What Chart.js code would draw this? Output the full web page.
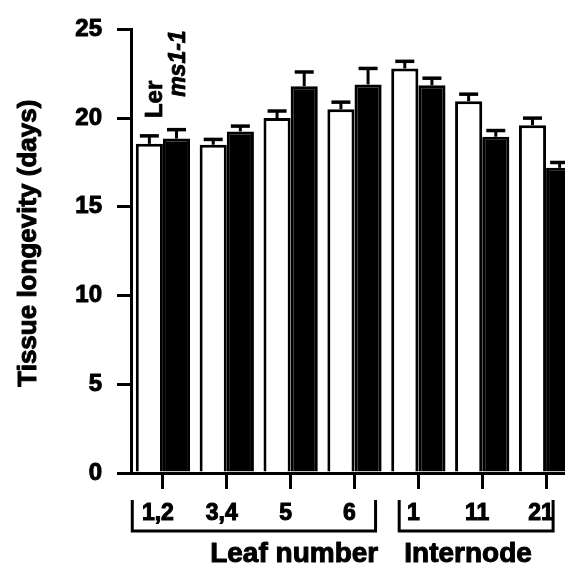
<!DOCTYPE html>
<html>
<head>
<meta charset="utf-8">
<script src="https://cdn.jsdelivr.net/npm/chart.js@4.4.1/dist/chart.umd.min.js"></script>
<style>
  html, body { margin: 0; padding: 0; background: #fff; overflow: hidden; width: 565px; height: 580px; }
  #wrap { position: absolute; left: 0; top: 0; width: 600px; height: 580px; }
  canvas { display: block; }
</style>
</head>
<body>
<div id="wrap"><canvas id="c" width="600" height="580"></canvas></div>
<script>
// ---- Data ----
const categories = ['1,2', '3,4', '5', '6', '1', '11', '21'];
const groupNames = ['Leaf number', 'Internode'];
const groupSizes = [4, 3];
const seriesNames = ['Ler', 'ms1-1'];
const lerValues  = [18.55, 18.5, 20.0, 20.5, 22.8, 20.95, 19.6];
const lerErrors  = [0.45, 0.3, 0.4, 0.4, 0.4, 0.4, 0.4];
const msValues   = [18.85, 19.25, 21.8, 21.9, 21.85, 18.95, 17.2];
const msErrors   = [0.5, 0.3, 0.8, 0.9, 0.4, 0.35, 0.3];
const yTicks     = [0, 5, 10, 15, 20, 25];
const yTitle     = 'Tissue longevity (days)';

const FONT = "'Liberation Sans', Arial, Helvetica, sans-serif";
const errorsByDataset = [lerErrors, msErrors];

function heavyText(ctx, text, x, y, w) {
  ctx.lineWidth = w;
  ctx.lineJoin = 'round';
  ctx.strokeText(text, x, y);
  ctx.fillText(text, x, y);
}

const errorBarPlugin = {
  id: 'errorBars',
  afterDatasetsDraw(chart) {
    const ctx = chart.ctx;
    const y = chart.scales.y;
    ctx.save();
    ctx.strokeStyle = '#000';
    chart.data.datasets.forEach((ds, di) => {
      const meta = chart.getDatasetMeta(di);
      meta.data.forEach((bar, i) => {
        const v = ds.data[i];
        const e = errorsByDataset[di][i];
        const yTop = y.getPixelForValue(v);
        const yErr = y.getPixelForValue(v + e);
        ctx.lineWidth = 3;
        ctx.beginPath();
        ctx.moveTo(bar.x, yTop);
        ctx.lineTo(bar.x, yErr);
        ctx.stroke();
        ctx.lineWidth = 3.5;
        ctx.beginPath();
        ctx.moveTo(bar.x - 9.5, yErr);
        ctx.lineTo(bar.x + 9.5, yErr);
        ctx.stroke();
      });
    });
    ctx.restore();
  }
};

const annotatePlugin = {
  id: 'annotate',
  afterDraw(chart) {
    const ctx = chart.ctx;
    const x = chart.scales.x;
    const y = chart.scales.y;
    const step = x.getPixelForValue(1) - x.getPixelForValue(0);
    ctx.save();
    ctx.fillStyle = '#000';
    ctx.strokeStyle = '#000';

    // Y-axis title
    ctx.save();
    ctx.translate(36, (chart.chartArea.top + chart.chartArea.bottom) / 2 - 8);
    ctx.rotate(-Math.PI / 2);
    ctx.font = 'bold 26px ' + FONT;
    ctx.textAlign = 'center';
    ctx.textBaseline = 'alphabetic';
    heavyText(ctx, yTitle, 0, 0, 1);
    ctx.restore();

    // Series labels written vertically above the first group
    const b0 = chart.getDatasetMeta(0).data[0];
    const b1 = chart.getDatasetMeta(1).data[0];
    ctx.textAlign = 'left';
    ctx.textBaseline = 'middle';
    ctx.save();
    ctx.translate(b0.x + 6, y.getPixelForValue(20.0));
    ctx.rotate(-Math.PI / 2);
    ctx.font = 'bold 24px ' + FONT;
    heavyText(ctx, seriesNames[0], 0, 0, 0.8);
    ctx.restore();
    ctx.save();
    ctx.translate(b1.x + 2, y.getPixelForValue(21.2));
    ctx.rotate(-Math.PI / 2);
    ctx.font = 'italic bold 23px ' + FONT;
    heavyText(ctx, seriesNames[1], 0, 0, 0.8);
    ctx.restore();

    // Group brackets under the category labels
    const top = x.top + 27, bot = x.top + 58;
    const g0L = x.getPixelForValue(0) - step * 0.48;
    const g0R = x.getPixelForValue(groupSizes[0] - 1) + step * 0.33;
    const g1L = x.getPixelForValue(groupSizes[0]) - step * 0.30;
    const g1R = x.getPixelForValue(groupSizes[0] + groupSizes[1] - 1) + step * 0.11;
    ctx.lineWidth = 3;
    [[g0L, g0R], [g1L, g1R]].forEach(([l, r]) => {
      ctx.beginPath();
      ctx.moveTo(l, top);
      ctx.lineTo(l, bot);
      ctx.lineTo(r, bot);
      ctx.lineTo(r, top);
      ctx.stroke();
    });

    // Group titles
    ctx.font = 'bold 28px ' + FONT;
    ctx.textBaseline = 'alphabetic';
    ctx.textAlign = 'left';
    heavyText(ctx, groupNames[0], x.getPixelForValue(0) + step * 0.74, x.top + 89, 1);
    heavyText(ctx, groupNames[1], x.getPixelForValue(groupSizes[0]) - step * 0.22, x.top + 89, 1);
    ctx.restore();
  }
};

new Chart(document.getElementById('c'), {
  type: 'bar',
  data: {
    labels: categories,
    datasets: [
      { label: seriesNames[0], data: lerValues, backgroundColor: '#ffffff', borderColor: '#000000', borderWidth: 3 },
      { label: seriesNames[1], data: msValues, backgroundColor: '#000000', borderColor: '#000000', borderWidth: 3 }
    ]
  },
  options: {
    responsive: false,
    animation: false,
    devicePixelRatio: 1,
    layout: { padding: { top: 24, right: 22, bottom: 0, left: 0 } },
    datasets: { bar: { categoryPercentage: 0.85, barPercentage: 1.0 } },
    plugins: { legend: { display: false }, tooltip: { enabled: false }, title: { display: false } },
    scales: {
      x: {
        offset: true,
        afterFit(scale) { scale.height = 107; },
        grid: { display: true, drawOnChartArea: false, drawTicks: true, tickLength: 16, lineWidth: 3, color: '#000', offset: false },
        border: { display: true, color: '#000', width: 3 },
        ticks: { color: '#000', font: { family: FONT, size: 23, weight: 'bold' }, padding: 11, labelOffset: -5, maxRotation: 0, autoSkip: false, textStrokeColor: '#000', textStrokeWidth: 1 }
      },
      y: {
        min: 0, max: 25,
        afterFit(scale) { scale.width = 131; },
        afterBuildTicks(scale) { scale.ticks = yTicks.map(v => ({ value: v })); },
        grid: { display: true, drawOnChartArea: false, drawTicks: true, tickLength: 14, lineWidth: 3, color: '#000' },
        border: { display: true, color: '#000', width: 3 },
        ticks: { color: '#000', font: { family: FONT, size: 24, weight: 'bold' }, padding: 15, textStrokeColor: '#000', textStrokeWidth: 1 },
        title: { display: false, text: yTitle }
      }
    }
  },
  plugins: [errorBarPlugin, annotatePlugin]
});
</script>
</body>
</html>
